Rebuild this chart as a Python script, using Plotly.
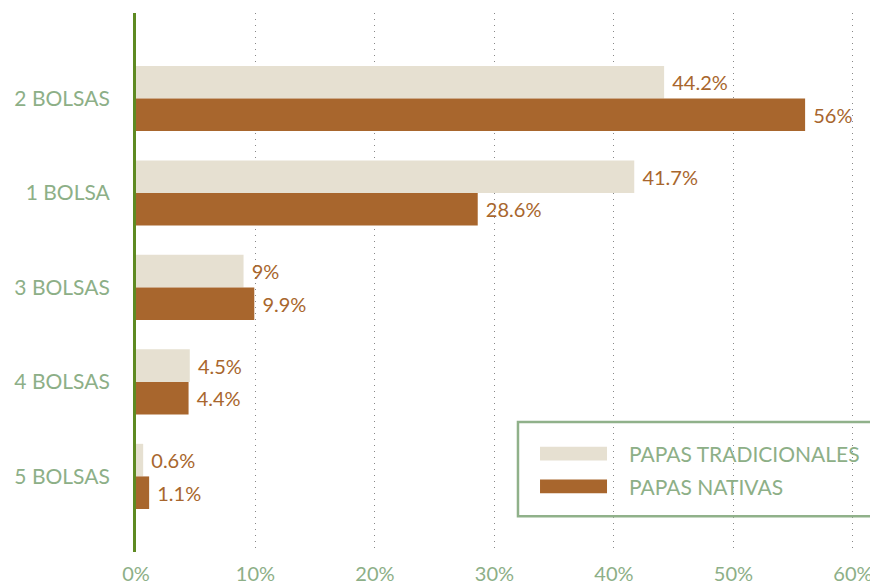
import plotly.graph_objects as go

categorias = ["2 BOLSAS", "1 BOLSA", "3 BOLSAS", "4 BOLSAS", "5 BOLSAS"]
tradicionales = [44.2, 41.7, 9, 4.5, 0.6]
nativas = [56, 28.6, 9.9, 4.4, 1.1]
nombres = ["PAPAS TRADICIONALES", "PAPAS NATIVAS"]
ticks_x = [0, 10, 20, 30, 40, 50, 60]
ticks_txt = ["0%", "10%", "20%", "30%", "40%", "50%", "60%"]

beige = "#E6E0D1"
cafe = "#A8662D"
verde = "#8DAF87"
verde_eje = "#5E8A22"
fuente = "Lato"

fig = go.Figure()
for vals, nom, col in [(tradicionales, nombres[0], beige), (nativas, nombres[1], cafe)]:
    fig.add_trace(go.Bar(
        name=nom, y=categorias, x=vals, orientation="h",
        marker_color=col, marker_line_width=0,
        text=vals, texttemplate="\u00a0%{x}%", textposition="outside",
        textfont={"color": cafe, "size": 20, "family": fuente},
        cliponaxis=False, showlegend=False,
    ))

# leyenda dibujada a mano (caja abierta a la derecha + muestras)
shapes = [
    dict(type="path", xref="paper", yref="paper",
         path="M 1.2,0.2412 L 0.5148,0.2412 L 0.5148,0.0663 L 1.2,0.0663",
         line={"color": "#90B18A", "width": 2.5}),
    dict(type="rect", xref="paper", yref="paper", x0=0.5445, x1=0.6348, y0=0.1697, y1=0.1954,
         line_width=0, fillcolor=beige),
    dict(type="rect", xref="paper", yref="paper", x0=0.5445, x1=0.6348, y0=0.1089, y1=0.1346,
         line_width=0, fillcolor=cafe),
]
annotations = [
    dict(xref="paper", yref="paper", x=0.6617, y=0.1825, text=nombres[0], showarrow=False,
         xanchor="left", yanchor="middle", font={"color": verde, "size": 21, "family": fuente}),
    dict(xref="paper", yref="paper", x=0.6617, y=0.1218, text=nombres[1], showarrow=False,
         xanchor="left", yanchor="middle", font={"color": verde, "size": 21, "family": fuente}),
]

fig.update_layout(
    width=870, height=577,
    margin={"l": 128, "r": 0, "t": 5, "b": 29},
    barmode="group", bargap=0.31, bargroupgap=0,
    paper_bgcolor="white", plot_bgcolor="white",
    font={"family": fuente, "color": verde, "size": 20},
    shapes=shapes, annotations=annotations,
)
fig.update_xaxes(
    range=[0, 62.1], tickvals=ticks_x, ticktext=ticks_txt,
    showgrid=True, gridcolor="#888888", griddash="1px,5px", gridwidth=1,
    zeroline=False, showline=False, ticks="", ticklabelstandoff=8,
)
fig.update_yaxes(
    categoryorder="array", categoryarray=categorias, range=[4.8, -0.905],
    showline=True, linecolor=verde_eje, linewidth=3, showgrid=False,
    ticks="", ticklabelstandoff=19, tickfont={"size": 21},
)

fig.write_html("out.html")
